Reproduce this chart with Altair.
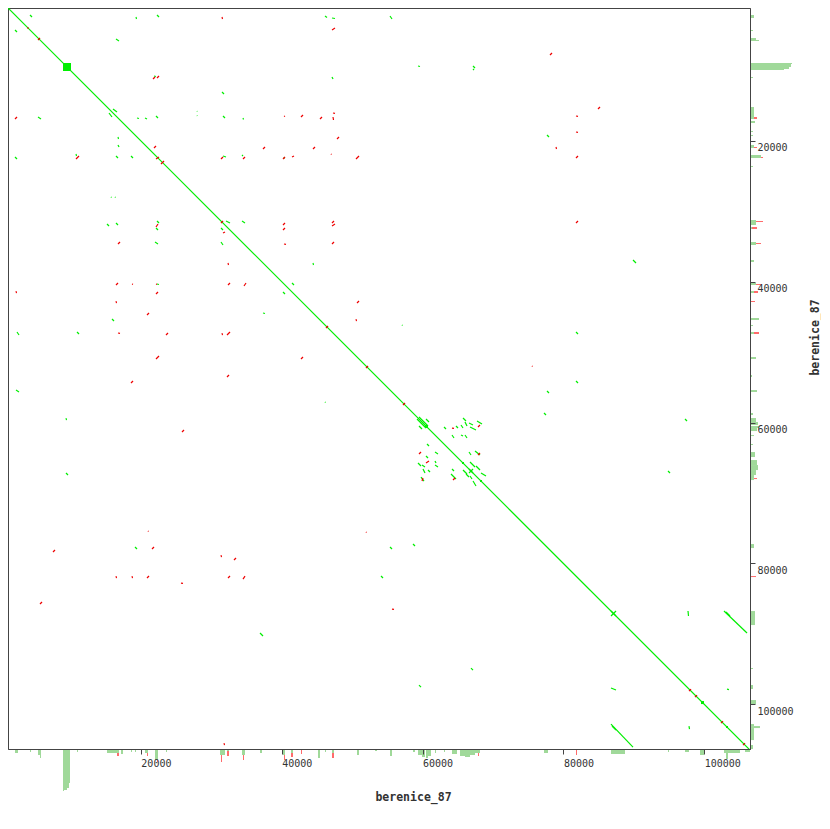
import altair as alt
import pandas as pd

GENOME = "berenice_87"
genome_length = 106500
# part of the sequence hidden behind the page margin (the reference starts at the page edge)
view_start = 1136
view_end_y = 106350
tick_values = [20000, 40000, 60000, 80000, 100000]

# forward (same-strand) matches: x1, y1, x2, y2 in bp
forward_hits = [
    (0, 0, 106500, 106500),
    (21868, 142, 22010, 426), (23572, 426, 23856, 710), (31808, 142, 31950, 426),
    (32518, 426, 32802, 710), (34506, 284, 34648, 710), (4260, 2130, 4544, 2414),
    (19312, 2414, 19383, 2698), (22294, 2130, 22578, 2414), (46150, 2272, 46434, 2485),
    (47144, 2556, 47570, 2627), (2130, 4260, 2414, 4544), (16472, 5538, 16898, 5822),
    (21868, 10792, 22152, 10863), (47144, 10934, 47286, 11218), (31524, 13064, 31808, 13348),
    (16046, 15478, 16614, 15904), (15478, 16046, 15904, 16614), (5396, 16614, 5822, 16898),
    (19454, 16756, 19738, 16827), (20590, 16756, 20874, 16898), (22152, 16472, 22436, 16756),
    (27974, 15762, 28017, 15833), (27974, 16401, 28017, 16472), (31666, 16472, 31950, 16756),
    (34506, 16756, 34577, 16969), (16756, 19454, 16827, 19738), (16756, 20590, 16898, 20874),
    (142, 21868, 426, 21939), (2130, 22294, 2414, 22578), (10792, 21868, 10863, 22152),
    (16472, 22152, 16756, 22436), (18602, 22152, 18886, 22436), (31666, 22152, 32092, 22294),
    (34364, 22010, 34506, 22152), (40328, 22294, 40399, 22507), (426, 23572, 710, 23856),
    (15762, 27974, 15833, 28045), (16330, 27974, 16401, 28045), (142, 31666, 426, 31950),
    (426, 32376, 710, 32660), (15194, 31808, 15478, 32092), (16472, 31666, 16756, 31950),
    (22294, 31382, 22578, 31666), (22152, 32376, 22436, 32660), (32092, 31382, 32660, 31666),
    (34364, 31382, 34790, 31666), (31382, 32376, 31666, 32660), (22010, 34364, 22436, 34648),
    (31382, 34364, 31666, 34790), (44446, 37346, 44517, 37630), (22294, 40328, 22578, 40399),
    (41464, 40186, 41748, 40470), (40186, 41464, 40470, 41748), (37346, 44446, 37630, 44517),
    (15904, 45298, 16188, 45582), (2414, 47144, 2698, 47570), (10934, 47144, 11218, 47428),
    (89886, 142, 89957, 426), (55380, 2272, 55664, 2698), (59356, 9372, 59640, 9443),
    (67166, 9372, 67450, 9656), (67166, 9798, 67308, 9940), (77674, 19170, 77958, 19454),
    (89886, 36920, 90312, 37346), (57084, 46150, 57155, 46221), (81792, 47144, 82076, 47428),
    (2272, 55380, 2698, 55664), (46150, 57084, 46221, 57155), (9372, 59356, 9443, 59640),
    (9372, 67166, 9656, 67450), (19170, 77674, 19454, 77958), (36920, 89886, 37346, 90312),
    (81792, 54102, 82076, 54386), (77674, 55522, 77958, 55806), (77248, 58646, 77532, 58930),
    (97270, 59498, 97554, 59782), (94856, 66882, 95140, 67166),
    (65746, 59356, 66172, 59782), (66030, 59924, 66314, 60492), (66598, 60066, 67166, 60350),
    (67734, 59782, 68444, 60208), (65462, 60350, 65746, 60776), (64752, 60492, 65036, 60776),
    (63048, 60634, 63332, 60918), (66740, 60634, 67592, 61060), (64184, 61770, 64468, 62196),
    (65462, 61770, 65746, 61912), (66030, 61770, 66314, 62196), (59498, 59214, 60776, 60492),
    (59214, 59498, 60492, 60776), (60492, 59498, 60918, 59924), (59498, 60492, 59924, 60918),
    (60634, 63048, 60918, 63332), (61770, 64184, 62196, 64468), (60492, 64752, 60776, 65036),
    (59356, 65746, 59782, 66172), (59924, 66030, 60350, 66314), (61770, 65462, 61912, 65746),
    (61770, 66030, 62196, 66314), (60066, 66598, 60350, 67166), (60776, 66740, 61060, 67024),
    (59782, 67734, 60208, 68302), (64184, 66598, 64468, 66882), (64042, 67308, 64752, 68018),
    (66598, 64184, 66882, 64610), (67450, 64042, 68160, 64610), (66740, 65604, 67450, 66314),
    (65746, 66740, 66314, 67308), (66598, 66598, 67166, 67166), (66598, 67166, 67166, 66598),
    (67592, 66172, 68160, 66740), (68302, 67166, 69012, 67592), (66172, 67308, 66598, 67734),
    (67166, 68302, 67592, 69012), (66740, 67592, 67024, 68018),
    (55380, 77674, 55664, 77958), (58646, 77248, 58930, 77532), (54102, 81792, 54386, 82076),
    (86762, 86762, 87472, 87472), (86762, 87472, 87472, 86762), (97696, 86762, 97767, 87472),
    (102808, 86762, 106074, 89886), (103092, 86904, 103660, 87472), (66882, 94856, 67166, 95140),
    (59498, 97270, 59782, 97554), (86762, 97696, 87472, 97980), (103234, 97838, 103518, 97909),
    (97838, 103092, 97909, 103518), (86762, 102808, 89886, 106074), (86904, 103092, 87472, 103660),
]

# reverse-complement matches: x1, y1, x2, y2 in bp
reverse_hits = [
    (284, 568, 568, 284), (16756, 710, 17182, 284), (284, 2698, 710, 2414),
    (31524, 2414, 31595, 2698), (47144, 4260, 47570, 3976), (3905, 4047, 4047, 3905),
    (5396, 5680, 5680, 5396), (21726, 11218, 22010, 10934), (22294, 11076, 22578, 10792),
    (2130, 16898, 2414, 16614), (40328, 16543, 40470, 16472), (42742, 16614, 43026, 16330),
    (45440, 16898, 45724, 16614), (47286, 16046, 47570, 16089), (47286, 16614, 47357, 17040),
    (47854, 19738, 48138, 19454), (21868, 21016, 22152, 20732), (37346, 21158, 37630, 20874),
    (44446, 21158, 44730, 20874), (47002, 21868, 47073, 21939), (10792, 22578, 11218, 22152),
    (22152, 22578, 22578, 22294), (22862, 23288, 23288, 22862), (31382, 22578, 31666, 22294),
    (34506, 22578, 34790, 22294), (40186, 22578, 40470, 22294), (41464, 22294, 41748, 22152),
    (50552, 22578, 50978, 22152), (22152, 32234, 22436, 31808), (31382, 31666, 31666, 31382),
    (40186, 31950, 40470, 31666), (40186, 32660, 40470, 32376), (47144, 31666, 47428, 31382),
    (47144, 32092, 47570, 31808), (31666, 33086, 31950, 32944), (16756, 34648, 17040, 34364),
    (40328, 34648, 40612, 34691), (47144, 34648, 47428, 34364), (32376, 37346, 32447, 37630),
    (16472, 40470, 16756, 40186), (18744, 40328, 18886, 40371), (22152, 40328, 22294, 40371),
    (32376, 40470, 32660, 40186), (34648, 40612, 34932, 40186), (2272, 41322, 2343, 41606),
    (22152, 41748, 22436, 41464), (16472, 42742, 16543, 43026), (50694, 43026, 50978, 42742),
    (20874, 44730, 21158, 44446), (50552, 45298, 50623, 45582), (46292, 46576, 46576, 46292),
    (284, 47428, 568, 47144), (16756, 47286, 17040, 47329), (23572, 47570, 23856, 47286),
    (31524, 47286, 31595, 47570), (32234, 47570, 32660, 47144), (22152, 50978, 22578, 50552),
    (42742, 50978, 43026, 50694), (51972, 52256, 52256, 51972),
    (78100, 7810, 78384, 7526), (84916, 15478, 85200, 15194), (81792, 16472, 82076, 16515),
    (81792, 18744, 82076, 18787), (78952, 20874, 79023, 21158), (81792, 22436, 82076, 22152),
    (81792, 31666, 82076, 31382), (75544, 51972, 75615, 52043),
    (142, 54102, 213, 54386), (18602, 54386, 18886, 54102), (32234, 53534, 32518, 53250),
    (25844, 61344, 26128, 61060), (21016, 75402, 21087, 75473), (51972, 75544, 52043, 75615),
    (7526, 78384, 7810, 78100), (21584, 77958, 21868, 77674), (31382, 78810, 31453, 79094),
    (33228, 79520, 33512, 79236), (16472, 81792, 16543, 82076), (18744, 81792, 18815, 82076),
    (20874, 82076, 21158, 81792), (25702, 82786, 25986, 82829), (32376, 82076, 32660, 81792),
    (34506, 82218, 34790, 81792), (5680, 85768, 5964, 85484), (31808, 105506, 31879, 105790),
    (57226, 57510, 57510, 57226), (67876, 60634, 68160, 60350), (64184, 60776, 64468, 60819),
    (59498, 64468, 59782, 64184), (60492, 65746, 60918, 65462), (59924, 68302, 60066, 67876),
    (64326, 68160, 64610, 67876), (67876, 64610, 68160, 64326), (55664, 86478, 55948, 86521),
    (97838, 98122, 98122, 97838), (98690, 98974, 98974, 98690), (102382, 102666, 102666, 102382),
    (105506, 105790, 105790, 105506),
]

# dense tandem-repeat blocks on the diagonal: start, end in bp
repeat_blocks = [
    (8946, 10082), (60350, 60776), (65604, 65888), (68160, 68444),
    (99542, 99968), (103092, 103376),
]

# coverage histogram bins: start, end, forward count, reverse count
coverage_bins = [
    (142, 284, 5, 0), (284, 497, 5, 5), (497, 710, 5, 0), (2130, 2556, 3, 0),
    (4260, 4402, 2, 0), (5396, 5680, 5, 0), (5680, 5822, 8, 0),
    (8946, 9088, 41, 0), (9088, 9514, 40, 0), (9514, 9798, 38, 0), (9798, 9940, 33, 0),
    (10934, 11076, 2, 0), (15194, 16330, 3, 0), (16330, 16614, 3, 0), (16614, 16898, 3, 3),
    (17182, 17466, 4, 0), (18602, 18744, 2, 0), (19170, 19312, 2, 0),
    (20590, 20874, 3, 0), (20874, 21016, 3, 3), (22010, 22294, 10, 0), (22294, 22436, 10, 2),
    (23572, 23714, 2, 0), (31240, 31382, 5, 0), (31382, 31524, 5, 7), (31524, 31950, 5, 0),
    (32234, 32518, 1, 5), (34364, 34506, 5, 0), (34506, 34648, 5, 5), (34648, 34790, 5, 0),
    (36920, 37204, 3, 0), (40186, 40328, 5, 0), (40328, 40470, 5, 5), (41322, 41606, 3, 4),
    (42742, 42884, 0, 4), (45156, 45440, 8, 0), (46150, 46292, 2, 0), (47144, 47428, 3, 5),
    (50694, 50978, 5, 0), (53250, 53534, 1, 0), (55380, 55664, 6, 0), (58646, 58930, 2, 0),
    (59356, 59924, 5, 0), (59924, 60350, 7, 0), (60492, 60776, 8, 0), (60776, 61202, 6, 0),
    (61770, 61912, 3, 0), (63048, 63190, 2, 0), (64184, 64894, 4, 0),
    (65320, 66030, 6, 0), (66030, 66740, 7, 0), (66740, 67450, 5, 0),
    (67450, 67876, 3, 0), (67876, 68018, 3, 3), (68018, 68160, 3, 0),
    (77248, 77816, 3, 0), (81792, 81934, 0, 5), (86762, 88750, 4, 0),
    (94856, 94998, 2, 0), (97270, 97838, 2, 0), (99400, 99968, 5, 0),
    (102808, 103092, 3, 0), (103092, 103376, 9, 0), (103376, 105080, 3, 0),
    (105790, 106500, 2, 0),
]

GREEN = "#00ee00"
RED = "#ee0000"
HIST_GREEN = "#a0d99a"
HIST_RED = "#ff6b6b"
AXIS_COLOR = "#444444"
TEXT_COLOR = "#333333"
FONT = "DejaVu Sans Mono"
HIST_MAX = 45
W, H = 742, 741

seg_rows = [dict(x1=a, y1=b, x2=c, y2=d, strand="+") for a, b, c, d in forward_hits]
seg_rows += [dict(x1=a, y1=b, x2=c, y2=d, strand="-") for a, b, c, d in reverse_hits]
seg_df = pd.DataFrame(seg_rows)
block_df = pd.DataFrame(repeat_blocks, columns=["start", "end"])
hist_df = pd.DataFrame(coverage_bins, columns=["start", "end", "fwd", "rev"])

xs = alt.Scale(domain=[view_start, genome_length], nice=False, zero=False)
ys = alt.Scale(domain=[view_start, view_end_y], nice=False, zero=False, reverse=True)
xs_c = alt.Scale(domain=[view_start, genome_length], nice=False, zero=False, clamp=True)
ys_c = alt.Scale(domain=[view_start, view_end_y], nice=False, zero=False, reverse=True, clamp=True)
count_bottom = alt.Scale(domain=[0, HIST_MAX], range=[H + 1, H + 1 + HIST_MAX], nice=False)
count_right = alt.Scale(domain=[0, HIST_MAX], range=[W + 1, W + 1 + HIST_MAX], nice=False)

x_axis = alt.Axis(
    values=tick_values, orient="bottom", grid=False, format="d",
    tickSize=5, tickColor=AXIS_COLOR, domainColor=AXIS_COLOR,
    labelFont=FONT, labelFontSize=10, labelColor=TEXT_COLOR,
    labelAlign="left", labelBaseline="top", labelPadding=4,
    labelFlush=False, labelOverlap=False,
    title=GENOME, titleFont=FONT, titleFontSize=11.5, titleFontWeight="bold",
    titleColor=TEXT_COLOR, titleX=405, titleY=51, titleAlign="center",
    titleBaseline="alphabetic", zindex=1,
)
y_axis = alt.Axis(
    values=tick_values, orient="right", grid=False, format="d",
    tickSize=5, tickColor=AXIS_COLOR, domainColor=AXIS_COLOR,
    labelFont=FONT, labelFontSize=10, labelColor=TEXT_COLOR,
    labelAlign="left", labelBaseline="top", labelPadding=2, labelOffset=2,
    labelFlush=False, labelOverlap=False,
    title=GENOME, titleFont=FONT, titleFontSize=11.5, titleFontWeight="bold",
    titleColor=TEXT_COLOR, titleAngle=270, titleX=68, titleY=329,
    titleAlign="center", titleBaseline="alphabetic", zindex=1,
)

hist = alt.Chart(hist_df).transform_calculate(base="0", top="datum.fwd + datum.rev")

bottom_fwd = hist.transform_filter("datum.fwd > 0").mark_rect(color=HIST_GREEN).encode(
    x=alt.X("start:Q", scale=xs_c, axis=None), x2="end:Q",
    y=alt.Y("base:Q", scale=count_bottom, axis=None), y2="fwd:Q",
)
bottom_rev = hist.transform_filter("datum.rev > 0").mark_rect(color=HIST_RED).encode(
    x=alt.X("start:Q", scale=xs_c, axis=None), x2="end:Q",
    y=alt.Y("fwd:Q", scale=count_bottom, axis=None), y2="top:Q",
)
right_fwd = hist.transform_filter("datum.fwd > 0").mark_rect(color=HIST_GREEN).encode(
    y=alt.Y("start:Q", scale=ys_c, axis=None), y2="end:Q",
    x=alt.X("base:Q", scale=count_right, axis=None), x2="fwd:Q",
)
right_rev = hist.transform_filter("datum.rev > 0").mark_rect(color=HIST_RED).encode(
    y=alt.Y("start:Q", scale=ys_c, axis=None), y2="end:Q",
    x=alt.X("fwd:Q", scale=count_right, axis=None), x2="top:Q",
)

blocks = alt.Chart(block_df).mark_rect(color=GREEN, clip=True).encode(
    x=alt.X("start:Q", scale=xs, axis=None), x2="end:Q",
    y=alt.Y("start:Q", scale=ys, axis=None), y2="end:Q",
)

segments = alt.Chart(seg_df).mark_rule(strokeWidth=1.2, clip=True).encode(
    x=alt.X("x1:Q", scale=xs, axis=x_axis),
    y=alt.Y("y1:Q", scale=ys, axis=y_axis),
    x2="x2:Q", y2="y2:Q",
    color=alt.Color("strand:N", scale=alt.Scale(domain=["+", "-"], range=[GREEN, RED]), legend=None),
)

chart = alt.layer(
    bottom_fwd, bottom_rev, right_fwd, right_rev, blocks, segments
).resolve_scale(
    x="independent", y="independent"
).properties(
    width=W, height=H,
    padding={"left": 0, "top": 0, "right": 0, "bottom": 2},
    background="white",
).configure_view(
    stroke=AXIS_COLOR, strokeWidth=1
)

chart.save("out.html", embed_options={"renderer": "svg", "actions": False})
